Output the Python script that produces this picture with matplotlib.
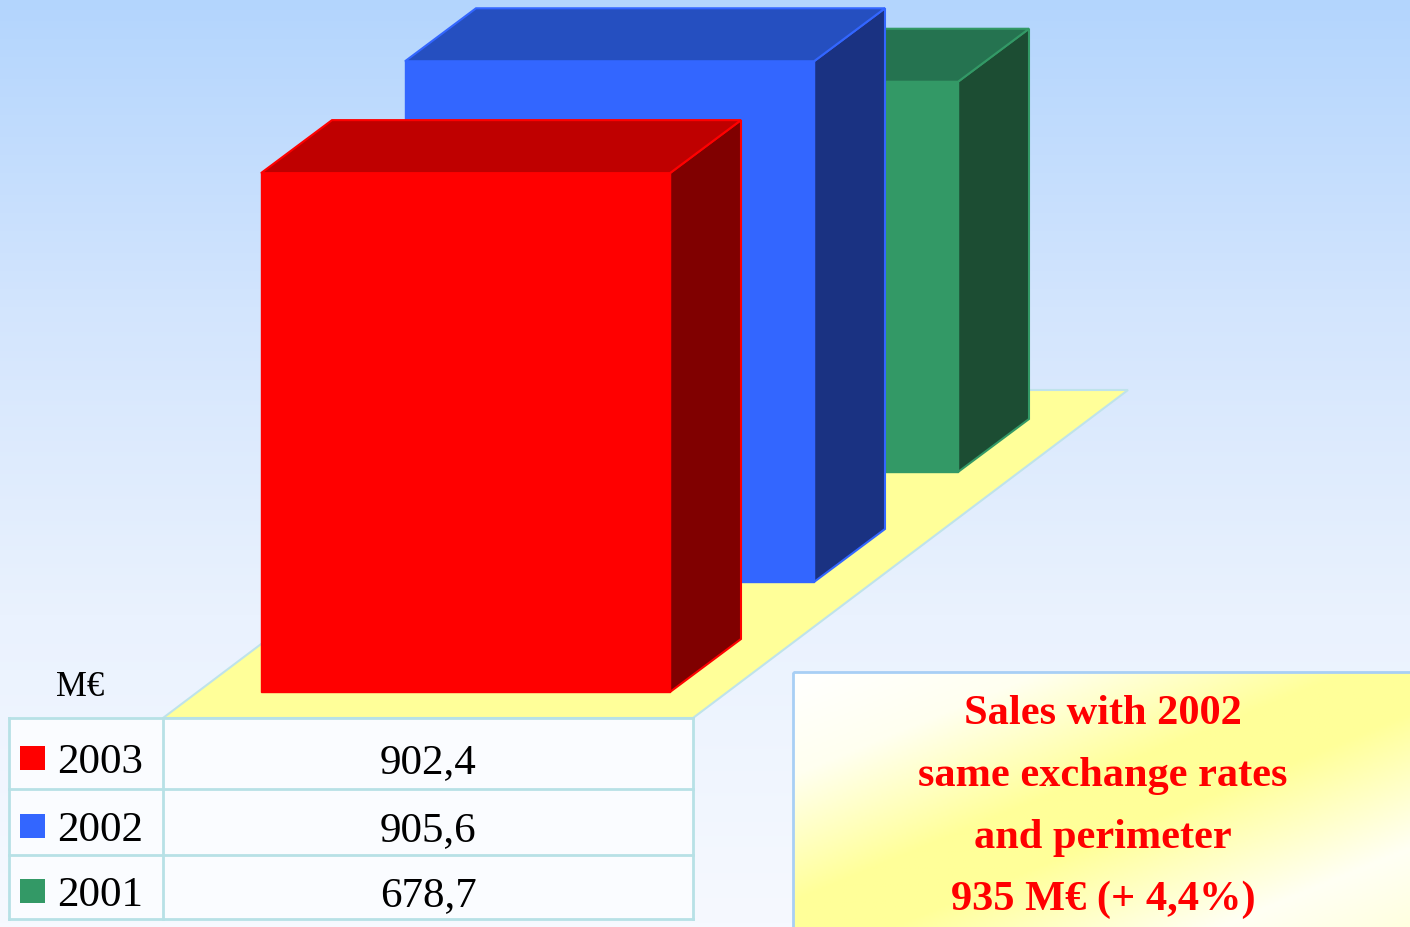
import numpy as np
import matplotlib.pyplot as plt
from matplotlib.patches import Polygon, Rectangle
from matplotlib.colors import LinearSegmentedColormap

# sales in M€, front row first
years = ['2003', '2002', '2001']
sales = [902.4, 905.6, 678.7]
sales_txt = ['902,4', '905,6', '678,7']
front_cols = ['#ff0000', '#3366ff', '#339966']
top_cols = ['#bf0000', '#254fc0', '#257350']
side_cols = ['#800000', '#1a3282', '#1c4d33']
note_lines = ['Sales with 2002', 'same exchange rates', 'and perimeter', '935 M€ (+ 4,4%)']
unit = 'M€'

W, H = 1410, 928
fig = plt.figure(figsize=(W / 100, H / 100), dpi=100)
ax = fig.add_axes([0, 0, 1, 1])
ax.set_xlim(0, W)
ax.set_ylim(H, 0)
ax.axis('off')

serif = 'Liberation Serif'

# sky-like background
bg = LinearSegmentedColormap.from_list('bg', ['#b3d5fd', '#d3e5fd', '#eaf2fe', '#f6f9ff'])
ax.imshow(np.linspace(0, 1, 256)[:, None], cmap=bg, extent=(0, W, H, 0),
          aspect='auto', zorder=0)

# pseudo-3d layout
px_per_meur = 0.575          # vertical scale
bar_w = 409
dx, dy = 71, -53             # bar depth
step_x, step_y = 144, -110   # shift between rows
base_x, base_y = 261, 693

# floor
floor = [(163, 719), (693, 719), (1128, 391), (598, 391)]
ax.add_patch(Polygon(floor, closed=True, fc='#ffff99', ec='#bfe3ea', lw=1.5, zorder=1))

# bars, back row first
for i in reversed(range(len(sales))):
    x0 = base_x + step_x * i
    y0 = base_y + step_y * i
    h = sales[i] * px_per_meur
    yt = y0 - h
    front = [(x0, y0), (x0 + bar_w, y0), (x0 + bar_w, yt), (x0, yt)]
    top = [(x0, yt), (x0 + bar_w, yt), (x0 + bar_w + dx, yt + dy), (x0 + dx, yt + dy)]
    side = [(x0 + bar_w, y0), (x0 + bar_w + dx, y0 + dy),
            (x0 + bar_w + dx, yt + dy), (x0 + bar_w, yt)]
    z = 10 - i * 2
    ax.add_patch(Polygon(side, closed=True, fc=side_cols[i], ec=front_cols[i], lw=1.5, zorder=z))
    ax.add_patch(Polygon(top, closed=True, fc=top_cols[i], ec=front_cols[i], lw=1.5, zorder=z))
    ax.add_patch(Polygon(front, closed=True, fc=front_cols[i], ec=front_cols[i], lw=1, zorder=z + 0.5))

# data table
tx0, tx1, tcol = 9, 693, 163
row_edges = [719, 790, 856, 920]
line_col = '#b7e1e6'
ax.add_patch(Rectangle((tx0, row_edges[0]), tx1 - tx0, row_edges[-1] - row_edges[0],
                       fc='#fafcff', ec='none', zorder=12))
for y in row_edges:
    ax.plot([tx0, tx1], [y, y], color=line_col, lw=2, zorder=13)
for x in (tx0, tcol, tx1):
    ax.plot([x, x], [row_edges[0], row_edges[-1]], color=line_col, lw=2, zorder=13)

ax.text(80, 688, unit, fontsize=25, family=serif, ha='center', va='center', zorder=14)
for i, (yr, val) in enumerate(zip(years, sales_txt)):
    yc = (row_edges[i] + row_edges[i + 1]) / 2 + 8
    ax.add_patch(Rectangle((20, yc - 16), 25, 24, fc=front_cols[i], ec='none', zorder=14))
    ax.text(57, yc, yr, fontsize=31, family=serif, ha='left', va='center', zorder=14)
    ax.text(428, yc, val, fontsize=31, family=serif, ha='center', va='center', zorder=14)

# note box with diagonal white/yellow gradient
bx0, by0, bx1, by1 = 793, 673, 1410, 928
u = np.linspace(0, 1, 300)[None, :]
v = np.linspace(0, 1, 150)[:, None]
s = (u + v) / 2
note_cmap = LinearSegmentedColormap.from_list(
    'note', [(0, '#ffffff'), (0.2, '#fffff0'), (0.45, '#ffff99'), (0.58, '#ffff99'),
             (0.85, '#fffff4'), (1, '#ffffe0')])
ax.imshow(s, cmap=note_cmap, vmin=0, vmax=1, extent=(bx0, bx1, by1, by0),
          aspect='auto', zorder=15)
ax.add_patch(Rectangle((bx0, by0), bx1 - bx0 + 5, by1 - by0 + 5, fc='none',
                       ec='#a8cff5', lw=2, zorder=16))
for k, line in enumerate(note_lines):
    ax.text(1103, 714 + 62 * k, line, fontsize=30.5, family=serif, weight='bold',
            color='#ff0000', ha='center', va='center', zorder=17)

fig.savefig('out.png', dpi=100)
